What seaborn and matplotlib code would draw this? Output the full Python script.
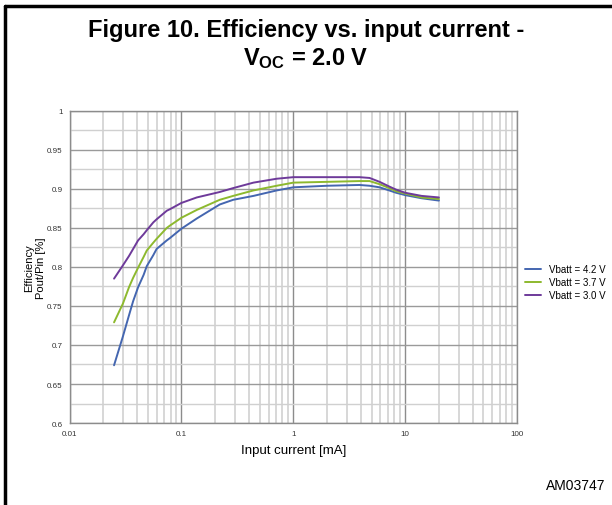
import matplotlib
matplotlib.use("Agg")
import matplotlib.pyplot as plt
import matplotlib.ticker as mticker
import seaborn as sns
import pandas as pd

# Input current [mA] and efficiency
current = [0.025, 0.030, 0.034, 0.037, 0.041, 0.046, 0.049, 0.056, 0.060, 0.074, 0.079,
           0.1, 0.137, 0.22, 0.29, 0.44, 0.71, 1.0, 2.0, 3.9, 4.8, 5.9, 7.2, 8.3, 10, 14, 20]
eff_42 = [0.674, 0.711, 0.738, 0.756, 0.774, 0.790, 0.801, 0.815, 0.823, 0.834, 0.837,
          0.849, 0.862, 0.880, 0.886, 0.891, 0.898, 0.902, 0.904, 0.905, 0.904, 0.902,
          0.898, 0.895, 0.892, 0.888, 0.885]
eff_37 = [0.729, 0.753, 0.774, 0.786, 0.799, 0.813, 0.821, 0.831, 0.836, 0.850, 0.853,
          0.863, 0.873, 0.886, 0.891, 0.898, 0.904, 0.908, 0.909, 0.910, 0.910, 0.906,
          0.901, 0.897, 0.894, 0.889, 0.887]
eff_30 = [0.785, 0.802, 0.814, 0.823, 0.834, 0.842, 0.847, 0.857, 0.861, 0.872, 0.874,
          0.882, 0.889, 0.896, 0.901, 0.908, 0.913, 0.915, 0.915, 0.915, 0.914, 0.909,
          0.903, 0.899, 0.895, 0.891, 0.889]
labels = ["Vbatt = 4.2 V", "Vbatt = 3.7 V", "Vbatt = 3.0 V"]
colors = ["#4466b0", "#8db92e", "#6e3a9a"]

df = pd.concat([
    pd.DataFrame({"current": current, "eff": e, "series": lab})
    for e, lab in zip([eff_42, eff_37, eff_30], labels)
])

sns.set_style("white")
plt.rcParams["font.family"] = ["Liberation Sans", "DejaVu Sans"]
plt.rcParams["text.color"] = "black"
plt.rcParams["axes.labelcolor"] = "black"
plt.rcParams["mathtext.fontset"] = "custom"
plt.rcParams["mathtext.rm"] = "Liberation Sans"
plt.rcParams["mathtext.bf"] = "Liberation Sans:bold"

fig = plt.figure(figsize=(6.12, 5.06), dpi=100)
ax = fig.add_axes([0.1136, 0.162, 0.7314, 0.617])

sns.lineplot(data=df, x="current", y="eff", hue="series", palette=colors,
             linewidth=1.4, ax=ax, legend=False, sort=False)

ax.set_xscale("log")
ax.set_xlim(0.01, 100)
ax.set_ylim(0.6, 1.0)
ax.set_xticks([0.01, 0.1, 1, 10, 100])
ax.xaxis.set_major_formatter(mticker.FuncFormatter(lambda v, p: f"{v:g}"))
ax.xaxis.set_minor_locator(mticker.LogLocator(base=10, subs=range(2, 10)))
ax.xaxis.set_minor_formatter(mticker.NullFormatter())
ax.set_yticks([0.6, 0.65, 0.7, 0.75, 0.8, 0.85, 0.9, 0.95, 1.0])
ax.yaxis.set_major_formatter(mticker.FuncFormatter(lambda v, p: f"{v:g}"))
ax.yaxis.set_minor_locator(mticker.MultipleLocator(0.025))

ax.grid(which="major", axis="x", color="#8c8c8c", linewidth=1.0)
ax.grid(which="minor", axis="x", color="#d4d4d4", linewidth=1.3)
ax.grid(which="major", axis="y", color="#9a9a9a", linewidth=1.0)
ax.grid(which="minor", axis="y", color="#d0d0d0", linewidth=1.0)
ax.set_axisbelow(True)
for s in ax.spines.values():
    s.set_color("#8c8c8c")
    s.set_linewidth(1.0)
ax.tick_params(which="both", length=0, labelsize=5.8, colors="#333333", pad=5)

ax.set_xlabel("Input current [mA]", fontsize=9.5, labelpad=5)
ax.set_ylabel("Efficiency\nPout/Pin [%]", fontsize=8, linespacing=1.25)
ax.yaxis.set_label_coords(-0.052, 0.5)

handles = [plt.Line2D([], [], color=c, linewidth=1.4) for c in colors]
fig.legend(handles, labels, loc="upper left", bbox_to_anchor=(0.852, 0.483),
           frameon=False, fontsize=7, handlelength=1.6, handletextpad=0.8,
           labelspacing=0.28, borderaxespad=0)

fig.text(0.5, 0.94, "Figure 10. Efficiency vs. input current -", ha="center",
         va="center", fontsize=17, fontweight="bold")
fig.text(0.5, 0.885, r"$\mathbf{V_{OC}}$ = 2.0 V", ha="center", va="center",
         fontsize=17, fontweight="bold")
fig.text(0.94, 0.04, "AM03747", ha="center", va="center", fontsize=10)

# frame lines at top and left
fig.add_artist(plt.Line2D([0.008, 0.008], [0, 0.986], color="black", linewidth=2.5,
                          transform=fig.transFigure))
fig.add_artist(plt.Line2D([0.008, 1.0], [0.986, 0.986], color="black", linewidth=2.5,
                          transform=fig.transFigure))

fig.savefig("out.png", dpi=100)
